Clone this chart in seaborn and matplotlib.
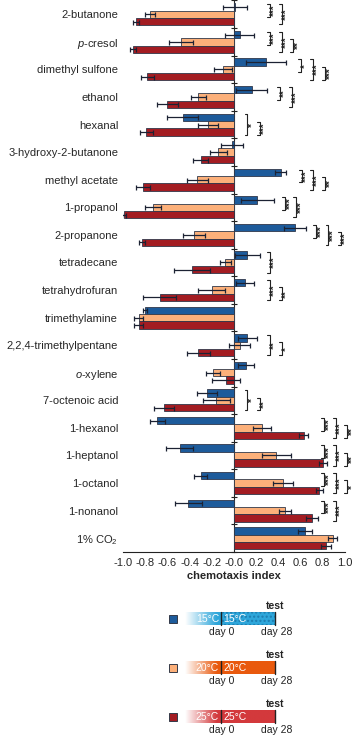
import numpy as np
import pandas as pd
import matplotlib.pyplot as plt
import seaborn as sns
from matplotlib.colors import LinearSegmentedColormap
from matplotlib.patches import Rectangle

sns.set_style("white")
plt.rcParams["font.family"] = ["Liberation Sans", "DejaVu Sans"]
plt.rcParams["mathtext.fontset"] = "custom"
plt.rcParams["mathtext.rm"] = "Liberation Sans"
plt.rcParams["mathtext.it"] = "Liberation Sans:italic"

# ---------- data ----------
compounds = ["2-butanone", r"$\it{p}$-cresol", "dimethyl sulfone", "ethanol", "hexanal",
             "3-hydroxy-2-butanone", "methyl acetate", "1-propanol", "2-propanone",
             "tetradecane", "tetrahydrofuran", "trimethylamine", "2,2,4-trimethylpentane",
             r"$\it{o}$-xylene", "7-octenoic acid", "1-hexanol", "1-heptanol", "1-octanol",
             "1-nonanol", "1% CO$_2$"]
temps = ["15°C", "20°C", "25°C"]

ci_15 = [0.01, 0.05, 0.29, 0.16, -0.46, -0.02, 0.42, 0.21, 0.55, 0.12,
         0.10, -0.80, 0.12, 0.11, -0.24, -0.69, -0.49, -0.30, -0.41, 0.64]
err_15 = [0.11, 0.13, 0.18, 0.14, 0.14, 0.10, 0.05, 0.15, 0.10, 0.11,
          0.08, 0.02, 0.085, 0.07, 0.09, 0.07, 0.12, 0.06, 0.12, 0.06]
ci_20 = [-0.76, -0.48, -0.10, -0.32, -0.23, -0.14, -0.33, -0.73, -0.36, -0.08,
         -0.20, -0.86, 0.05, -0.19, -0.16, 0.25, 0.38, 0.44, 0.46, 0.89]
err_20 = [0.045, 0.11, 0.08, 0.065, 0.09, 0.075, 0.095, 0.07, 0.10, 0.05,
          0.12, 0.04, 0.095, 0.06, 0.12, 0.08, 0.13, 0.09, 0.055, 0.04]
ci_25 = [-0.885, -0.91, -0.78, -0.60, -0.79, -0.30, -0.82, -0.99, -0.83, -0.38,
         -0.67, -0.86, -0.32, -0.075, -0.63, 0.63, 0.80, 0.77, 0.70, 0.83]
err_25 = [0.025, 0.03, 0.06, 0.095, 0.06, 0.07, 0.06, 0.02, 0.03, 0.16,
          0.15, 0.04, 0.10, 0.125, 0.09, 0.04, 0.035, 0.035, 0.055, 0.045]

# significance brackets: (row, bar a, bar b, x position, label)
sig = [(0, 0, 1, 0.32, "***"), (0, 0, 2, 0.43, "***"),
       (1, 0, 1, 0.32, "***"), (1, 0, 2, 0.43, "***"), (1, 1, 2, 0.53, "**"),
       (2, 0, 1, 0.60, "*"), (2, 0, 2, 0.71, "***"), (2, 1, 2, 0.82, "***"),
       (3, 0, 1, 0.41, "**"), (3, 0, 2, 0.52, "***"),
       (4, 0, 2, 0.12, "*"), (4, 1, 2, 0.23, "***"),
       (6, 0, 1, 0.61, "***"), (6, 0, 2, 0.71, "***"), (6, 1, 2, 0.82, "**"),
       (7, 0, 1, 0.46, "***"), (7, 0, 2, 0.56, "***"),
       (8, 0, 1, 0.74, "***"), (8, 0, 2, 0.85, "***"), (8, 1, 2, 0.96, "***"),
       (9, 0, 2, 0.32, "***"),
       (10, 0, 2, 0.32, "***"), (10, 1, 2, 0.43, "**"),
       (12, 0, 2, 0.32, "**"), (12, 1, 2, 0.43, "*"),
       (14, 0, 2, 0.12, "*"), (14, 1, 2, 0.23, "**"),
       (15, 0, 1, 0.81, "***"), (15, 0, 2, 0.915, "***"), (15, 1, 2, 1.02, "**"),
       (16, 0, 1, 0.81, "***"), (16, 0, 2, 0.915, "***"), (16, 1, 2, 1.02, "**"),
       (17, 0, 1, 0.81, "***"), (17, 0, 2, 0.915, "***"), (17, 1, 2, 1.02, "*"),
       (18, 0, 1, 0.81, "***"), (18, 0, 2, 0.915, "***")]

bar_colors = ["#1d5b9b", "#fcb07a", "#a31c22"]
legend_colors = ["#2ea6da", "#e9590d", "#d3393c"]

df = pd.DataFrame({
    "compound": compounds * 3,
    "temp": np.repeat(temps, len(compounds)),
    "ci": ci_15 + ci_20 + ci_25,
    "err": err_15 + err_20 + err_25,
})

# ---------- plot ----------
fig = plt.figure(figsize=(3.57, 7.35), dpi=100)
ax = fig.add_axes([123 / 357, 1 - 552 / 735, 222 / 357, 551.5 / 735])

sns.barplot(data=df, y="compound", x="ci", hue="temp", orient="h",
            palette=bar_colors, saturation=1, errorbar=None, width=0.8,
            edgecolor="#30384a", linewidth=0.6, legend=False, ax=ax)

errs = [err_15, err_20, err_25]
bar_sets = list(ax.containers)
centers = []
for k, cont in enumerate(bar_sets):
    ys = [b.get_y() + b.get_height() / 2 for b in cont]
    xs = [b.get_width() for b in cont]
    centers.append(ys)
    ax.errorbar(xs, ys, xerr=errs[k], fmt="none", ecolor="#1c2233",
                elinewidth=0.9, capsize=1.8, capthick=0.9, zorder=5)

ax.set_xlim(-1, 1)
ax.set_ylim(len(compounds) - 0.5, -0.5)
ax.set_xticks(np.round(np.arange(-1, 1.01, 0.2), 1))
ax.set_xticklabels([f"{t:.1f}" for t in np.arange(-1, 1.01, 0.2)], fontsize=8)
ax.set_xlabel("chemotaxis index", fontsize=8, fontweight="bold", labelpad=2)
ax.set_ylabel("")
ax.tick_params(axis="y", length=0, pad=3.5, labelsize=8)
ax.tick_params(axis="x", direction="inout", length=5, width=0.8, pad=2, color="#222")
for s in ["top", "right", "left"]:
    ax.spines[s].set_visible(False)
ax.spines["bottom"].set_color("#222")
ax.spines["bottom"].set_linewidth(0.8)

# central axis with group separator ticks
mid = ax.secondary_yaxis(0.5)
mid.set_yticks(np.arange(-0.5, len(compounds), 1.0))
mid.set_yticklabels([])
mid.tick_params(direction="inout", length=5, width=0.8, color="#222")
mid.spines["left"].set_color("#222")
mid.spines["left"].set_linewidth(0.8)

# significance brackets
for row, a, b, x, lab in sig:
    y1, y2 = centers[a][row] - 0.1, centers[b][row] + 0.1
    ax.plot([x - 0.025, x, x, x - 0.025], [y1, y1, y2, y2], color="#222",
            lw=0.8, clip_on=False)
    ax.text(x + 0.004, (y1 + y2) / 2, lab, rotation=90, ha="left", va="center",
            fontsize=7, fontweight="bold", color="#222", clip_on=False)

# ---------- legend ----------
lax = fig.add_axes([0, 0, 1, 1])
lax.axis("off")
row_tops = [612, 661, 710]
for k, top in enumerate(row_tops):
    lax.add_patch(Rectangle((169, top + 3), 7.5, 7.5, facecolor=bar_colors[k],
                            edgecolor="#333a48", lw=0.7))
    cmap = LinearSegmentedColormap.from_list("g", ["white", legend_colors[k]])
    grad = np.clip(np.linspace(0, 90, 200) / 32, 0, 1)[None, :]
    lax.imshow(grad, extent=[185, 275, top + 13, top], cmap=cmap, vmin=0, vmax=1,
               aspect="auto", interpolation="bilinear")
    if k == 0:
        lax.add_patch(Rectangle((221, top), 54, 13, fill=False, hatch="....",
                                edgecolor="#1d7db0", lw=0))
    lax.plot([221, 221], [top, top + 13], color="#222", lw=1)
    lax.plot([274.5, 274.5], [top, top + 13], color="#222", lw=1)
    lax.text(219, top + 6.8, temps[k], color="white", fontsize=7.5,
             ha="right", va="center")
    lax.text(223, top + 6.8, temps[k], color="white", fontsize=7.5,
             ha="left", va="center")
    lax.text(275.5, top - 6, "test", fontsize=7.5, fontweight="bold",
             color="#222", ha="center", va="center")
    lax.text(222, top + 20, "day 0", fontsize=7.5, color="#222",
             ha="center", va="center")
    lax.text(277, top + 20, "day 28", fontsize=7.5, color="#222",
             ha="center", va="center")
lax.set_xlim(0, 357)
lax.set_ylim(735, 0)

fig.savefig("out.png", dpi=100)
